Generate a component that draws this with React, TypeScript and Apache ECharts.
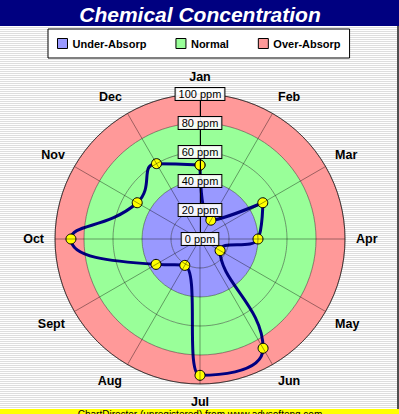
import React, { useEffect, useRef } from "react";
import * as echarts from "echarts";

const months = ["Jan", "Feb", "Mar", "Apr", "May", "Jun", "Jul", "Aug", "Sept", "Oct", "Nov", "Dec"];
const concentration = [51, 15, 50, 40, 16, 87, 94, 21, 35, 89, 50, 60];
const zoneNames = ["Under-Absorp", "Normal", "Over-Absorp"];
const zoneColors = ["#9999ff", "#99ff99", "#ff9999"];
const zoneUpper = [40, 80, 100];
const radiusTicks = [0, 20, 40, 60, 80, 100];
const titleText = "Chemical Concentration";
const footerText = "ChartDirector (unregistered) from www.advsofteng.com";

const FONT = "Arial, 'Liberation Sans', sans-serif";

export default function App() {
  const ref = useRef<HTMLDivElement>(null);
  useEffect(() => {
    if (!ref.current) return;
    const chart = echarts.init(ref.current, undefined, { renderer: "svg" });
    const step = 360 / months.length;
    const pts = concentration.map((v, i) => [v, i * step]);
    pts.push([concentration[0], 360]);
    const rMin = radiusTicks[0];
    const rMax = radiusTicks[radiusTicks.length - 1];
    const rInt = radiusTicks[1] - radiusTicks[0];
    const areaColors = radiusTicks.slice(0, -1).map((t) => zoneColors[zoneUpper.findIndex((u) => t < u)]);
    const center = [200, 239];
    const radius = 145;
    const grid = "rgba(0,0,0,0.38)";
    chart.setOption({
      animation: false,
      graphic: [
        { type: "rect", shape: { x: 0, y: 0, width: 399, height: 26 }, style: { fill: "#000080" }, z: 0 },
        {
          type: "text", x: 200, y: 14, z: 1,
          style: { text: titleText, fill: "#fff", font: `italic bold 21px ${FONT}`, textAlign: "center", textVerticalAlign: "middle" },
        },
        { type: "rect", shape: { x: 397, y: 26, width: 2, height: 390 }, style: { fill: "#505050" }, z: 0 },
        { type: "rect", shape: { x: 0, y: 409, width: 399, height: 10 }, style: { fill: "#ffff00" }, z: 0 },
        {
          type: "text", x: 200, y: 409.5, z: 1,
          style: { text: footerText, fill: "#000", font: `10px ${FONT}`, textAlign: "center", textVerticalAlign: "top" },
        },
      ],
      legend: {
        left: 48,
        top: 29,
        padding: [9, 9, 9, 9],
        itemGap: 29,
        itemWidth: 10,
        itemHeight: 10,
        icon: "rect",
        selectedMode: false,
        backgroundColor: "#fff",
        borderColor: "#000",
        borderWidth: 1,
        textStyle: { fontSize: 11, fontWeight: "bold", color: "#000", fontFamily: FONT },
        data: zoneNames.map((n, i) => ({
          name: n,
          itemStyle: { color: zoneColors[i], borderColor: "#000", borderWidth: 1 },
        })),
      },
      polar: [
        { center, radius },
        { center, radius },
      ],
      angleAxis: [
        {
          polarIndex: 0, type: "value", min: 0, max: 360, interval: step, startAngle: 90, clockwise: true,
          axisLine: { show: false }, axisTick: { show: false }, axisLabel: { show: false }, splitLine: { show: false },
        },
        {
          polarIndex: 1, type: "value", min: 0, max: 360, interval: step, startAngle: 90, clockwise: true, z: 5,
          axisLine: { show: true, lineStyle: { color: "rgba(0,0,0,0.55)", width: 1 } },
          axisTick: { show: false },
          axisLabel: {
            show: true, margin: 11, fontSize: 12.5, fontWeight: "bold", color: "#000", fontFamily: FONT,
            formatter: (v: number) => months[Math.round(v / step) % months.length],
          },
          splitLine: { show: true, lineStyle: { color: grid, width: 1 } },
        },
      ],
      radiusAxis: [
        {
          polarIndex: 0, type: "value", min: rMin, max: rMax, interval: rInt,
          axisLine: { show: false }, axisTick: { show: false }, axisLabel: { show: false }, splitLine: { show: false },
          splitArea: { show: true, areaStyle: { color: areaColors } },
        },
        {
          polarIndex: 1, type: "value", min: rMin, max: rMax, interval: rInt, z: 6,
          axisLine: { show: true, lineStyle: { color: "#000", width: 1 } },
          axisTick: { show: false },
          axisLabel: {
            show: true, margin: 0, align: "center", verticalAlign: "middle",
            showMinLabel: true, showMaxLabel: true,
            formatter: "{value} ppm", fontSize: 11, color: "#000", fontFamily: FONT,
            backgroundColor: "rgba(255,255,255,0.9)", borderColor: "#000", borderWidth: 1, padding: [1, 3, 0, 3],
          },
          splitLine: { show: true, lineStyle: { color: grid, width: 1 } },
        },
      ],
      series: [
        {
          name: "Concentration", type: "line", coordinateSystem: "polar", polarIndex: 0,
          data: pts, smooth: 0.55, symbol: "circle", symbolSize: 10, z: 3,
          itemStyle: { color: "#ffff00", borderColor: "#000", borderWidth: 1 },
          lineStyle: { color: "#000080", width: 3 },
        },
        ...zoneNames.map((n, i) => ({
          name: n, type: "line", coordinateSystem: "polar", polarIndex: 0, data: [],
          itemStyle: { color: zoneColors[i] },
        })),
      ],
    });
    return () => chart.dispose();
  }, []);
  return (
    <div
      ref={ref}
      style={{
        position: "absolute", left: 0, top: 0, width: 399, height: 414,
        background: "repeating-linear-gradient(to bottom, #ffffff 0px, #ffffff 1px, #dedede 1px, #dedede 2px)",
      }}
    />
  );
}
